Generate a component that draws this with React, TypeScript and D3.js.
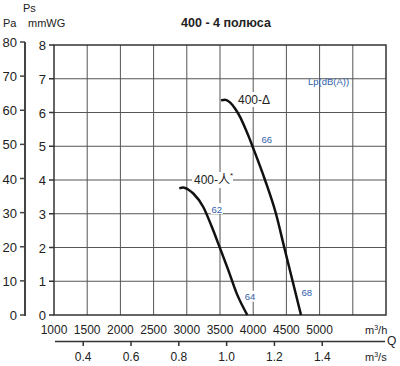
import React from "react";
import * as d3 from "d3";

// flow in m3/h, static pressure in mmWG
const deltaQ = [3515, 3575, 3650, 3726, 3800, 3870, 3930, 3989, 4178, 4343, 4468, 4594, 4720];
const deltaPs = [6.36, 6.38, 6.3, 6.12, 5.88, 5.58, 5.3, 5.0, 4.0, 3.0, 2.0, 1.0, 0];
const starQ = [2887, 2947, 3020, 3098, 3248, 3375, 3500, 3625, 3751, 3911];
const starPs = [3.75, 3.78, 3.72, 3.6, 3.2, 2.62, 1.98, 1.33, 0.64, 0];

const qTicks = [1000, 1500, 2000, 2500, 3000, 3500, 4000, 4500, 5000];
const qGrid = [1500, 2000, 2500, 3000, 3500, 4000, 4500, 5000, 5500];
const m3sTicks = [0.4, 0.6, 0.8, 1.0, 1.2, 1.4];
const mmTicks = [0, 1, 2, 3, 4, 5, 6, 7, 8];
const paTicks = [0, 10, 20, 30, 40, 50, 60, 70, 80];

// sound level labels [Q, Ps, text]
const lpLabels: [number, number, string][] = [
  [4203, 5.21, "66"],
  [3450, 3.14, "62"],
  [3952, 0.54, "64"],
  [4806, 0.68, "68"],
];

const font = "'Liberation Sans', Arial, sans-serif";
const blue = "#2f5ea8";

export default function App() {
  const svgRef = React.useRef<SVGSVGElement>(null);

  React.useEffect(() => {
    const x = d3.scaleLinear().domain([1000, 6000]).range([54, 386]);
    const y = d3.scaleLinear().domain([0, 8]).range([315, 45]);
    const yPa = d3.scaleLinear().domain([0, 80]).range([315, 42]);

    const svg = d3.select(svgRef.current);
    svg.selectAll("*").remove();
    svg.append("rect").attr("width", 400).attr("height", 366).attr("fill", "#fff");

    // grid
    const g = svg.append("g");
    g.selectAll(".vg").data(qGrid).enter().append("line")
      .attr("x1", d => x(d)).attr("x2", d => x(d))
      .attr("y1", y(8)).attr("y2", y(0))
      .attr("stroke", "#555").attr("stroke-width", 1);
    g.selectAll(".hg").data(mmTicks.slice(1, -1)).enter().append("line")
      .attr("x1", x(1000)).attr("x2", x(6000))
      .attr("y1", d => y(d)).attr("y2", d => y(d))
      .attr("stroke", "#555").attr("stroke-width", 1);
    g.append("rect")
      .attr("x", x(1000)).attr("y", y(8))
      .attr("width", x(6000) - x(1000)).attr("height", y(0) - y(8))
      .attr("fill", "none").attr("stroke", "#333").attr("stroke-width", 1.5);

    // mmWG axis
    mmTicks.forEach(d => {
      svg.append("line").attr("x1", 49).attr("x2", 54)
        .attr("y1", y(d)).attr("y2", y(d)).attr("stroke", "#333").attr("stroke-width", 1.5);
      svg.append("text").attr("x", 46).attr("y", y(d) + 5)
        .attr("text-anchor", "end").attr("font-size", 13).attr("font-family", font)
        .attr("fill", "#222").text(d);
    });

    // Pa axis
    svg.append("line").attr("x1", 25).attr("x2", 25)
      .attr("y1", yPa(80)).attr("y2", yPa(0) + 1)
      .attr("stroke", "#444").attr("stroke-width", 2);
    paTicks.forEach(d => {
      svg.append("line").attr("x1", 20).attr("x2", 25)
        .attr("y1", yPa(d)).attr("y2", yPa(d)).attr("stroke", "#444").attr("stroke-width", 1.5);
      svg.append("text").attr("x", 17).attr("y", yPa(d) + 5)
        .attr("text-anchor", "end").attr("font-size", 13).attr("font-family", font)
        .attr("fill", "#222").text(d);
    });

    const lbl = (tx: number, ty: number, s: string, size = 11, anchor = "start") =>
      svg.append("text").attr("x", tx).attr("y", ty).attr("font-size", size)
        .attr("font-family", font).attr("fill", "#222").attr("text-anchor", anchor).text(s);
    lbl(23, 12, "Ps");
    lbl(3, 27, "Pa");
    lbl(28, 27, "mmWG");

    svg.append("text").attr("x", 226).attr("y", 27).attr("text-anchor", "middle")
      .attr("font-size", 12.5).attr("font-weight", "bold").attr("font-family", font)
      .attr("fill", "#222").text("400 - 4 полюса");

    // bottom axis m3/h
    qTicks.forEach(d => {
      svg.append("text").attr("x", x(d)).attr("y", 334).attr("text-anchor", "middle")
        .attr("font-size", 12).attr("font-family", font).attr("fill", "#222").text(d);
    });
    const unitH = svg.append("text").attr("x", 365).attr("y", 334)
      .attr("font-size", 11).attr("font-family", font).attr("fill", "#222");
    unitH.append("tspan").text("m");
    unitH.append("tspan").attr("font-size", 7).attr("dy", -4).text("3");
    unitH.append("tspan").attr("dy", 4).text("/h");
    lbl(387, 345, "Q", 12);

    // m3/s axis
    svg.append("line").attr("x1", 55).attr("x2", 385).attr("y1", 341.5).attr("y2", 341.5)
      .attr("stroke", "#333").attr("stroke-width", 1.5);
    m3sTicks.forEach(d => {
      const px = x(d * 3600);
      svg.append("line").attr("x1", px).attr("x2", px).attr("y1", 341.5).attr("y2", 346)
        .attr("stroke", "#333").attr("stroke-width", 1.5);
      svg.append("text").attr("x", px).attr("y", 361).attr("text-anchor", "middle")
        .attr("font-size", 12).attr("font-family", font).attr("fill", "#222").text(d.toFixed(1));
    });
    const unitS = svg.append("text").attr("x", 365).attr("y", 361)
      .attr("font-size", 11).attr("font-family", font).attr("fill", "#222");
    unitS.append("tspan").text("m");
    unitS.append("tspan").attr("font-size", 7).attr("dy", -4).text("3");
    unitS.append("tspan").attr("dy", 4).text("/s");

    // curves
    const line = d3.line<[number, number]>()
      .x(d => x(d[0])).y(d => y(d[1])).curve(d3.curveMonotoneX);
    [[deltaQ, deltaPs], [starQ, starPs]].forEach(([qs, ps]) => {
      svg.append("path")
        .datum(qs.map((q, i) => [q, ps[i]] as [number, number]))
        .attr("d", line).attr("fill", "none")
        .attr("stroke", "#111").attr("stroke-width", 2.5);
    });

    // curve names with white backing
    svg.append("rect").attr("x", 236).attr("y", 92).attr("width", 36).attr("height", 15).attr("fill", "#fff");
    lbl(238, 104, "400-Δ", 12);
    svg.append("rect").attr("x", 192).attr("y", 172).attr("width", 41).attr("height", 16).attr("fill", "#fff");
    const st = lbl(194, 184, "400-", 12);
    st.append("tspan").attr("font-family", "'Noto Sans CJK SC', sans-serif").text("人");
    st.append("tspan").attr("font-size", 8).attr("dy", -6).text("*");

    // sound levels
    lpLabels.forEach(([q, p, s]) => {
      const px = x(q), py = y(p);
      svg.append("rect").attr("x", px - 6).attr("y", py - 6).attr("width", 12).attr("height", 11).attr("fill", "#fff");
      svg.append("text").attr("x", px).attr("y", py + 3.5).attr("text-anchor", "middle")
        .attr("font-size", 9.5).attr("font-family", font).attr("fill", blue).text(s);
    });
    svg.append("text").attr("x", 308).attr("y", 85).attr("font-size", 9.5)
      .attr("font-family", font).attr("fill", blue).text("Lp(dB(A))");
  }, []);

  return (
    <svg ref={svgRef} width={400} height={366}
      style={{ position: "absolute", left: 0, top: 0 }} />
  );
}
